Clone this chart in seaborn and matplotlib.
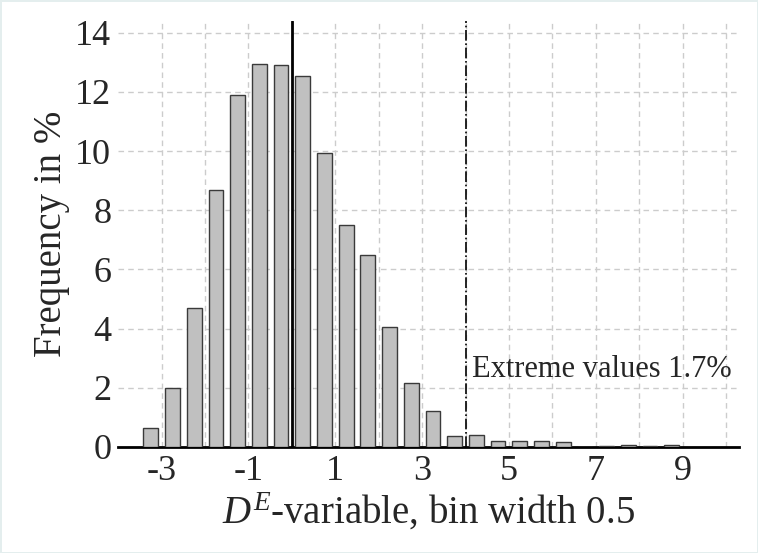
import numpy as np
import pandas as pd
import matplotlib
matplotlib.use("Agg")
import matplotlib.pyplot as plt
import seaborn as sns

# bin centres (bin width 0.5) and frequency in %
bin_centres = [-3.25, -2.75, -2.25, -1.75, -1.25, -0.75, -0.25, 0.25, 0.75, 1.25,
               1.75, 2.25, 2.75, 3.25, 3.75, 4.25, 4.75, 5.25, 5.75, 6.25,
               7.25, 7.75, 8.25, 8.75]
freq_pct = [0.65, 2.0, 4.7, 8.7, 11.9, 12.95, 12.9, 12.55, 9.95, 7.5,
            6.5, 4.05, 2.15, 1.2, 0.35, 0.4, 0.2, 0.2, 0.2, 0.16,
            0.04, 0.07, 0.04, 0.07]
x_ticks = [-3, -1, 1, 3, 5, 7, 9]
x_minor = [-2, 0, 2, 4, 6, 8, 10]
y_ticks = [0, 2, 4, 6, 8, 10, 12, 14]
extreme_cut = 4
extreme_label = "Extreme values 1.7%"

df = pd.DataFrame({"centre": bin_centres, "freq": freq_pct})

sns.set_style("white")
plt.rcParams['font.family'] = ['Liberation Serif', 'DejaVu Serif']
plt.rcParams['mathtext.fontset'] = 'custom'
plt.rcParams['mathtext.rm'] = 'Liberation Serif'
plt.rcParams['mathtext.it'] = 'Liberation Serif:italic'

fig = plt.figure(figsize=(7.58, 5.53), dpi=100)
fig.patch.set_edgecolor('#e4eeee')
fig.patch.set_linewidth(2)
ax = fig.add_axes([0.156, 0.192, 0.819, 0.770])

sns.histplot(data=df, x="centre", weights="freq", binwidth=0.5, binrange=(-3.5, 9),
             shrink=0.68, color='#c0c0c0', edgecolor='#3a3a3a', linewidth=1.0,
             alpha=1, ax=ax, zorder=3)

ax.axvline(0, color='black', linewidth=2, zorder=4)
ax.axvline(extreme_cut, color='black', linewidth=1.2, linestyle='-.', zorder=4)
ax.text(extreme_cut + 0.15, 2.62, extreme_label, fontsize=22, va='center', ha='left')

ax.set_xlim(-4, 10.3)
ax.set_ylim(0, 14.4)
ax.set_xticks(x_ticks)
ax.set_xticklabels([str(t) for t in x_ticks])
ax.set_xticks(x_minor, minor=True)
ax.set_yticks(y_ticks)
ax.grid(True, which='both', axis='x', color='#cccccc', linestyle=(0, (4, 3)), linewidth=1, zorder=0)
ax.grid(True, which='major', axis='y', color='#cccccc', linestyle=(0, (4, 3)), linewidth=1, zorder=0)
ax.set_axisbelow(True)
ax.tick_params(axis='both', which='both', length=0, labelsize=26)
ax.tick_params(axis='x', pad=6)
ax.tick_params(axis='y', pad=5)

for s in ['left', 'top', 'right']:
    ax.spines[s].set_visible(False)
ax.spines['bottom'].set_color('black')
ax.spines['bottom'].set_linewidth(2)

ax.set_xlabel(r'$D^{E}$-variable, bin width 0.5', fontsize=28, labelpad=2)
ax.set_ylabel('Frequency in %', fontsize=28, labelpad=4)

fig.savefig("out.png", dpi=100)
